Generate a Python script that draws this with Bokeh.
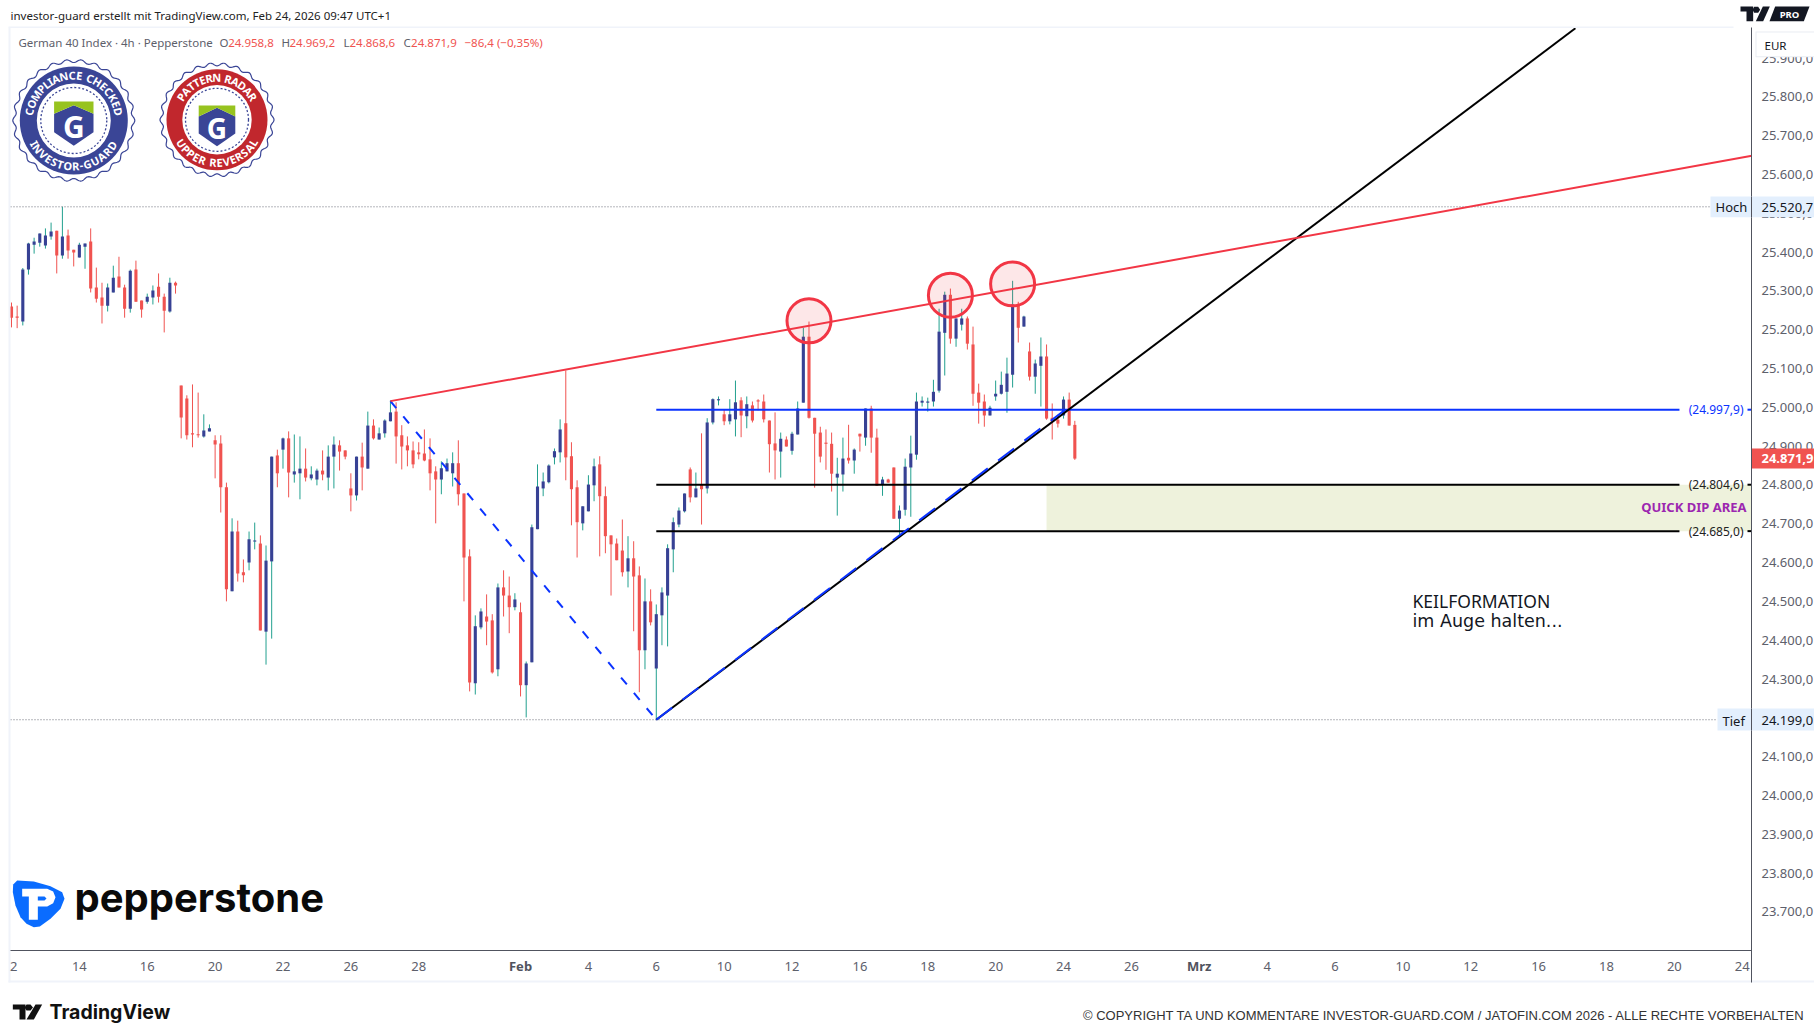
import math
from bokeh.plotting import figure
from bokeh.models import Range1d, Label, PolyAnnotation
from bokeh.core.properties import value
from bokeh.embed import file_html
from bokeh.resources import INLINE

highs = [25274,25266,25363,25428,25441,25452,25465,25480,25459,25521,
25462,25410,25428,25426,25465,25364,25325,25323,25369,25392,
25320,25359,25382,25279,25297,25318,25349,25297,25338,25328,
25060,25035,25063,25042,24986,24960,24932,24932,24810,24718,
24712,24612,24684,24707,24674,24648,24877,24895,24926,24942,
24934,24929,24898,24852,24846,24893,24906,24929,24919,24893,
24834,24877,24913,24993,24973,24952,24973,25022,25017,24958,
24929,24916,24914,24947,24924,24852,24865,24872,24888,24919,
24782,24638,24468,24486,24522,24471,24550,24584,24568,24525,
24501,24349,24702,24857,24836,24857,24898,24973,25099,24914,
24816,24749,24829,24872,24878,24800,24674,24666,24715,24672,
24659,24594,24563,24535,24496,24540,24651,24720,24746,24782,
24849,24836,24937,24976,25027,25032,24999,25025,25073,25030,
25032,25019,25025,25037,24970,24991,24939,24929,24941,25019,
25209,25225,24977,24954,24947,24939,24874,24926,24959,24898,
24936,25001,25008,24949,24825,24820,24849,24751,24872,24931,
25042,25032,25029,25075,25258,25302,25310,25233,25258,25238,
25212,25065,25037,25008,25073,25096,25132,25330,25276,25240,
25171,25127,25184,25166,25014,24985,25032,25042,24969.2]
lows = [25210,25208,25215,25346,25400,25418,25413,25436,25349,25387,
25387,25367,25390,25361,25300,25274,25220,25251,25300,25313,
25235,25248,25276,25235,25271,25269,25274,25197,25248,25297,
24924,24921,24901,24926,24926,24942,24821,24733,24504,24530,
24555,24553,24584,24638,24429,24341,24408,24798,24846,24772,
24810,24767,24813,24816,24803,24816,24790,24795,24841,24870,
24736,24764,24790,24846,24921,24921,24926,24968,24859,24844,
24852,24847,24870,24865,24790,24705,24780,24839,24800,24751,
24504,24272,24264,24432,24391,24318,24311,24465,24422,24481,
24259,24205,24347,24690,24775,24808,24857,24862,24816,24700,
24617,24687,24736,24762,24620,24628,24519,24610,24568,24540,
24427,24270,24329,24442,24199,24391,24388,24579,24695,24733,
24759,24772,24702,24782,24960,25009,24958,24960,24929,24927,
24950,24965,24996,24965,24836,24818,24823,24903,24882,24934,
25016,24975,24797,24862,24843,24787,24725,24787,24859,24833,
24890,24905,24887,24802,24776,24810,24717,24673,24725,24722,
24869,25006,24993,25006,25042,25086,25168,25160,25202,25153,
25008,24962,24954,24983,25021,25037,24990,25055,25171,25212,
25073,25039,25006,24972,24921,24952,24975,24957,24868.6]
opens = [25264,25238,25225,25359,25423,25428,25421,25444,25459,25395,
25447,25410,25390,25418,25431,25313,25287,25266,25300,25341,
25313,25258,25359,25279,25276,25287,25315,25289,25251,25325,
25060,25027,24937,24934,24929,24942,24919,24911,24798,24530,
24684,24579,24604,24658,24653,24426,24607,24880,24895,24924,
24831,24834,24846,24821,24818,24841,24823,24877,24906,24893,
24795,24777,24877,24846,24957,24921,24937,24968,24993,24932,
24906,24893,24888,24885,24870,24839,24818,24839,24834,24860,
24782,24620,24293,24437,24465,24455,24329,24540,24519,24489,
24476,24288,24347,24690,24795,24811,24875,24888,24963,24878,
24798,24705,24736,24803,24857,24775,24674,24653,24635,24581,
24615,24571,24378,24504,24331,24468,24519,24638,24702,24736,
24844,24772,24805,24795,24965,25022,24986,24968,24973,25022,
24981,25009,25022,25019,24970,24911,24890,24921,24892,24934,
25016,25186,24977,24939,24913,24910,24823,24831,24874,24867,
24936,24926,25001,24926,24805,24818,24849,24717,24740,24849,
24882,25016,25016,25019,25047,25196,25294,25181,25217,25233,
25166,25042,25019,24983,25032,25039,25044,25088,25266,25212,
25148,25083,25111,25135,24977,24972,24983,25024,24958.8]
closes = [25235,25235,25359,25426,25431,25452,25447,25457,25395,25444,
25408,25403,25423,25426,25310,25284,25266,25313,25338,25313,
25258,25356,25276,25256,25289,25305,25289,25253,25325,25318,
24978,24932,24934,24932,24944,24950,24908,24798,24535,24684,
24576,24571,24664,24661,24429,24609,24877,24834,24924,24836,
24839,24846,24823,24831,24841,24831,24877,24908,24890,24877,
24777,24877,24849,24957,24924,24937,24970,24991,24929,24903,
24893,24857,24883,24867,24834,24818,24847,24860,24860,24780,
24617,24295,24440,24478,24452,24321,24540,24519,24489,24509,
24288,24344,24695,24800,24813,24854,24891,24947,24875,24793,
24708,24749,24805,24852,24775,24672,24651,24610,24579,24615,
24568,24378,24504,24450,24471,24527,24641,24708,24738,24782,
24772,24795,24793,24965,25025,25025,24968,24986,25017,24983,
25012,24970,25019,24973,24909,24893,24923,24903,24936,25001,
25186,24977,24936,24877,24910,24833,24833,24872,24867,24895,
24929,25001,24926,24802,24818,24810,24717,24738,24851,24885,
25019,25021,25019,25044,25199,25294,25181,25233,25233,25168,
25039,25016,24983,25003,25039,25062,25091,25269,25209,25238,
25083,25117,25135,24975,24967,24962,25024,24957,24871.9]

price_ticks = [23700,23800,23900,24000,24100,24200,24300,24400,24500,24600,24700,24800,24900,
               25000,25100,25200,25300,25400,25500,25600,25700,25800,25900]
price_tick_labels = ["23.700,0","23.800,0","23.900,0","24.000,0","24.100,0","24.200,0","24.300,0",
                     "24.400,0","24.500,0","24.600,0","24.700,0","24.800,0","24.900,0","25.000,0",
                     "25.100,0","25.200,0","25.300,0","25.400,0","25.500,0","25.600,0","25.700,0",
                     "25.800,0","25.900,0"]
date_tick_bars = [0.4,12,24,36,48,60,72,102,114,126,138,150,162,174,186,198,222,234,246,258,270,282,294,306]
date_tick_labels = ["2","14","16","20","22","26","28","4","6","10","12","16","18","20","24","26",
                    "4","6","10","12","16","18","20","24"]
month_bars = [90,210]
month_labels = ["Feb","Mrz"]

high_label = 25520.7
low_label = 24199.0
level_blue = 24997.9
level_black = [24804.6, 24685.0]
level_bar_start = 114
level_bar_end = 294.9
zone_bars = [183.0, 307.7]
wedge_bars = [67, 307.7]
wedge_vals = [25020, 25652]
support_bars = [114, 276.5]
support_vals = [24199, 25980.6]
blue_up_bars = [114, 186.3]
blue_up_vals = [24199, 24997.9]
blue_down_bars = [67, 114]
blue_down_vals = [25020, 24199]
circle_bars = [141, 166, 177]
circle_vals = [25227, 25293, 25322]

UP_BODY, UP_WICK, DOWN = "#374194", "#22a08f", "#f05350"
AXIS, GREY, INK, BAND = "#50535e", "#5d606b", "#131722", "#f0f3fa"
NAVY, CRIMSON, LEAF = "#3a4596", "#c1272d", "#97c31f"
FONT = "Noto Sans"

def X(px): return (px - 11) / 5.656
def Y(py): return 25520.7 - (py - 206.3) * 2.5767

p = figure(width=1814, height=1035, output_backend="svg", toolbar_location=None,
           x_range=Range1d(X(0), X(1814)), y_range=Range1d(Y(1035), Y(0)),
           x_axis_type=None, y_axis_type=None,
           min_border_left=0, min_border_right=0, min_border_top=0, min_border_bottom=0,
           outline_line_color=None, background_fill_color="white", border_fill_color="white")

bars = list(range(len(closes)))
up = [c >= o for o, c in zip(opens, closes)]

p.quad(left=[zone_bars[0]], right=[zone_bars[1]], bottom=[level_black[1]], top=[level_black[0]],
       fill_color="#eef2dc", line_color=None)

p.segment(x0=bars, x1=bars, y0=lows, y1=highs, line_width=1,
          line_color=[UP_WICK if u else DOWN for u in up])
p.vbar(x=bars, width=0.55, bottom=[min(o, c) for o, c in zip(opens, closes)],
       top=[max(max(o, c), min(o, c) + 2.6) for o, c in zip(opens, closes)],
       fill_color=[UP_BODY if u else DOWN for u in up], line_color=None)

dot_end = {high_label: 1710, low_label: 1717}
for v, e in dot_end.items():
    p.line([X(10), X(e)], [v, v], line_color="#6a6d78", line_width=1, line_dash=[1, 2])

for v, c in [(level_blue, "#0b33ff"), (level_black[0], "black"), (level_black[1], "black")]:
    p.line([level_bar_start, level_bar_end], [v, v], line_color=c, line_width=2)
    p.line([X(1747), X(1751)], [v, v], line_color=c, line_width=2)

p.line(blue_down_bars, blue_down_vals, line_color="#0b33ff", line_width=2, line_dash=[9, 11])
p.line(support_bars, support_vals, line_color="black", line_width=2)
p.line(blue_up_bars, blue_up_vals, line_color="#0b33ff", line_width=2, line_dash=[20, 13])
p.line(wedge_bars, wedge_vals, line_color="#f23645", line_width=2)
p.scatter(circle_bars, circle_vals, marker="circle", size=44, fill_color="#f23645", fill_alpha=0.12,
          line_color="#f23645", line_width=3)

def poly(pts, color, level="overlay"):
    p.add_layout(PolyAnnotation(xs=[a for a, _ in pts], ys=[b for _, b in pts],
                                xs_units="canvas", ys_units="canvas",
                                fill_color=color, fill_alpha=1, line_color=None, level=level))

def rect(x0, y0, x1, y1, color):
    poly([(x0, y0), (x1, y0), (x1, y1), (x0, y1)], color)

def txt(px, py, s, size=12, color=INK, bold=False, align="left", font=FONT, baseline="middle"):
    p.add_layout(Label(x=px, y=py, x_units="canvas", y_units="canvas", text=s, text_font=font,
                       text_font_size=f"{size}px", text_color=color, text_align=align, level="overlay",
                       text_baseline=baseline, text_font_style="bold" if bold else "normal"))

def axis_label(x, x_units, y, y_units, s, color=GREY, bold=False, align="center", y_offset=0):
    p.add_layout(Label(x=x, y=y, x_units=x_units, y_units=y_units, text=s, text_font=FONT,
                       text_font_size="13px", text_color=color, text_align=align, text_baseline="middle",
                       text_font_style="bold" if bold else "normal", level="overlay", y_offset=y_offset))

# frame, axis lines and tick labels (drawn first so the price tags cover them)
rect(8, 27, 10, 982, BAND)
rect(8, 26, 1733, 27.5, BAND)
rect(8, 980, 1814, 982, BAND)
rect(10, 949.5, 1751, 950.5, AXIS)
rect(1750.5, 27, 1751.5, 982, AXIS)

for v, s in zip(price_ticks, price_tick_labels):
    axis_label(1761, "canvas", v, "data", s, align="left", y_offset=1.5)
for b, s in zip(date_tick_bars, date_tick_labels):
    axis_label(b, "data", 965.5, "canvas", s)
for b, s in zip(month_bars, month_labels):
    axis_label(b, "data", 965.5, "canvas", s, AXIS, True)

# price tags
rect(1710, 196, 1814, 216.7, "#e3effd")
rect(1717, 708, 1814, 730, "#e3effd")
rect(1751.5, 448, 1814, 468, DOWN)
rect(1755, 31, 1814, 56.7, "#e9ecf2")
rect(1756, 32, 1814, 55.7, "white")
rect(1750.5, 196, 1751.5, 216.7, AXIS)
rect(1750.5, 708, 1751.5, 730, AXIS)
txt(1715, 206.5, "Hoch", 13)
txt(1722, 720, "Tief", 13)
txt(1761, 206.5, "25.520,7", 13)
txt(1761, 719.5, "24.199,0", 13)
txt(1761, 458, "24.871,9", 13, "white", True)
txt(1764, 44.7, "EUR", 11.5)

txt(1743, 409, "(24.997,9)", 12, "#0b33ff", align="right")
txt(1743, 484, "(24.804,6)", 12, "#222222", align="right")
txt(1743, 530.5, "(24.685,0)", 12, "#222222", align="right")
txt(1746, 506, "QUICK DIP AREA", 13, "#9c27b0", True, "right")
txt(1412, 600, "KEILFORMATION", 17.5)
txt(1412, 620.5, "im Auge halten...", 17.5, font="DejaVu Sans")

txt(10, 14.5, "investor-guard erstellt mit TradingView.com, Feb 24, 2026 09:47 UTC+1", 11.5, "#222222")
txt(18, 42, "German 40 Index \u00b7 4h \u00b7 Pepperstone", 11.5, GREY)
for x, s, c in [(219, "O", GREY), (227.7, "24.958,8", DOWN), (281, "H", GREY), (289, "24.969,2", DOWN),
                (343, "L", GREY), (349, "24.868,6", DOWN), (403, "C", GREY), (410.6, "24.871,9", DOWN),
                (464, "\u221286,4 (\u22120,35%)", DOWN)]:
    txt(x, 42, s, 11.5, c)

CHAR_W = {" ": .5, "I": .45, "L": .75, "E": .8, "P": .85, "T": .85, "-": .55, "M": 1.25, "C": .95, "G": 1.0,
          "O": 1.08, "Q": 1.08, "A": 1.0, "N": 1.1, "D": 1.05, "H": 1.05, "K": .95, "R": .9, "S": .8, "U": 1.05,
          "V": .95}

def seal(cx, cy, R_outer, R_disc, R_in, R_dash, col, n, top, bottom, r_t, span_t, span_b, shield, gsize, tsize):
    th = [2 * math.pi * i / 360 for i in range(361)]
    sx = [cx + (R_outer - 1.5 + 1.5 * math.cos(n * t)) * math.cos(t) for t in th]
    sy = [cy + (R_outer - 1.5 + 1.5 * math.cos(n * t)) * math.sin(t) for t in th]
    p.patch([X(a) for a in sx], [Y(b) for b in sy], fill_color="white", line_color=NAVY, line_width=1.2)
    p.scatter([X(cx)], [Y(cy)], marker="circle", size=2 * R_disc, fill_color=col, line_color=None)
    p.scatter([X(cx)], [Y(cy)], marker="circle", size=2 * R_in, fill_color="white", line_color=None)
    p.line([X(cx + R_dash * math.cos(t)) for t in th], [Y(cy + R_dash * math.sin(t)) for t in th],
           line_color=NAVY, line_width=1.3, line_dash=[2, 2])
    lx, ly, la, lt = [], [], [], []
    for s, span, sgn in ((top, span_t, -1), (bottom, span_b, 1)):
        w = [CHAR_W.get(ch, 1.0) for ch in s]
        total = sum(w)
        run = 0.0
        for ch, wi in zip(s, w):
            phi = -span + 2 * span * (run + wi / 2) / total
            run += wi
            a = math.radians(phi)
            lx.append(X(cx + r_t * math.sin(a)))
            ly.append(Y(cy + sgn * r_t * math.cos(a)))
            la.append(a if sgn > 0 else -a)
            lt.append(ch)
    p.text(lx, ly, text=lt, angle=la, text_color="white", text_font=value(FONT), text_font_style="bold",
           text_font_size=value(f"{tsize}px"), text_align="center", text_baseline="middle")
    hw, t0, apex, side, low, tip = shield
    p.patch([X(v) for v in (cx - hw, cx, cx + hw, cx + hw, cx, cx - hw)],
            [Y(v) for v in (side, apex, side, low, tip, low)], fill_color=NAVY, line_color=None)
    p.patch([X(v) for v in (cx - hw, cx + hw, cx + hw, cx, cx - hw)],
            [Y(v) for v in (t0, t0, side, apex, side)], fill_color=LEAF, line_color=None)
    p.text([X(cx)], [Y((apex + tip) / 2 + 0.5)], text=["G"], text_color="white", text_font=value(FONT),
           text_font_style="bold", text_font_size=value(f"{gsize}px"), text_align="center", text_baseline="middle")

seal(73.3, 120, 61, 54, 37, 33, NAVY, 26, "COMPLIANCE CHECKED", "INVESTOR-GUARD", 45.5, 84, 62,
     (19.7, 101, 104.7, 113.3, 131.7, 145.3), 30, 11)
seal(216.5, 119.3, 57, 50.5, 34.7, 31.5, CRIMSON, 26, "PATTERN RADAR", "UPPER REVERSAL", 42.5, 62, 62,
     (18.3, 105, 107.3, 116, 133, 145.7), 28, 11)

def zp(pts): return [(a / 3, 870 + b / 3) for a, b in pts]
poly(zp([(50, 30), (100, 33), (150, 47), (185, 65), (192, 85), (180, 115), (150, 145), (118, 168), (100, 170),
         (78, 160), (60, 140), (45, 105), (37, 65), (38, 42)]), "#0a6cff")
poly(zp([(65, 55), (140, 55), (158, 63), (165, 80), (158, 98), (140, 108), (112, 108), (112, 148), (85, 148),
         (85, 78), (65, 78)]), "white")
poly(zp([(112, 78), (132, 78), (138, 84), (132, 90), (112, 90)]), "#0a6cff")
txt(74, 896.7, "pepperstone", 40, "#0a0a0a", True, font="Inter", baseline="alphabetic")

poly(zp([(37, 402), (75, 402), (75, 447), (57, 447), (57, 417), (37, 417)]), "#111111")
poly(zp([(105, 402), (125, 402), (100, 447), (78, 447)]), "#111111")
poly([(26, 1004), (30, 1004), (32.5, 1007), (30, 1010), (26, 1010), (24, 1007)], "#111111")
txt(49, 1011, "TradingView", 19.5, "#111111", True, font="Inter", baseline="alphabetic")

def zq(pts): return [(1600 + a / 3, b / 3) for a, b in pts]
poly(zq([(420, 18), (458, 18), (458, 62), (438, 62), (438, 33), (420, 33)]), "#131722")
poly(zq([(487, 18), (508, 18), (488, 62), (466, 62)]), "#131722")
poly(zq([(461, 19), (473, 19), (479, 28), (473, 37), (461, 37), (456, 28)]), "#131722")
poly(zq([(524, 18), (627, 18), (610, 62), (507, 62)]), "#131722")
txt(1789, 13.5, "PRO", 9.5, "white", True, "center")

txt(1805, 1015, "\u00a9 COPYRIGHT TA UND KOMMENTARE INVESTOR-GUARD.COM / JATOFIN.COM 2026 - ALLE RECHTE VORBEHALTEN",
    13, "#333333", align="right", font="Liberation Sans")

open("out.html", "w").write(file_html(p, INLINE))
